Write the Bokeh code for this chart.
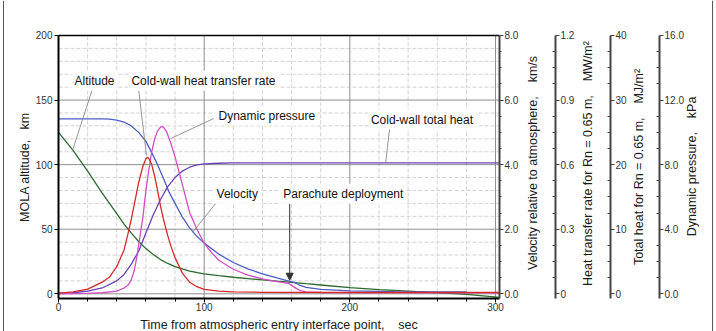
import math
from bokeh.plotting import figure
from bokeh.models import (Range1d, LinearAxis, FixedTicker, Label, Arrow, NormalHead,
                          PrintfTickFormatter, Span)
from bokeh.embed import file_html
from bokeh.resources import INLINE

# ---------------- data ----------------
time_alt = [0, 10, 20, 30, 40, 45, 50, 55, 60, 65, 70, 75, 80, 90, 100, 110, 120, 130, 140,
            150, 160, 170, 180, 200, 220, 250, 280, 303]
altitude_km = [125, 111, 95, 78, 62, 54, 47, 40.5, 35, 30.5, 26.5, 23.5, 21, 17.5, 15.5, 14,
               12.8, 11.8, 10.8, 9.8, 8.9, 7.8, 6.8, 4.8, 3.3, 1.5, -0.5, -2.8]

time_vel = [0, 20, 30, 35, 40, 45, 50, 55, 60, 65, 68, 72, 76, 80, 85, 90, 95, 100, 110, 120,
            130, 140, 150, 158, 162, 166, 170, 180, 200, 230, 260, 280]
velocity_kms = [5.42, 5.42, 5.42, 5.41, 5.38, 5.32, 5.20, 5.00, 4.72, 4.28, 4.00, 3.58, 3.14,
                2.80, 2.38, 2.04, 1.78, 1.57, 1.23, 0.97, 0.77, 0.62, 0.49, 0.39, 0.35, 0.26,
                0.20, 0.14, 0.09, 0.07, 0.06, 0.06]

time_q = [0, 10, 20, 30, 35, 40, 45, 48, 50, 52, 55, 58, 60, 61, 62, 64, 66, 68, 70, 72, 75,
          78, 80, 85, 90, 95, 100, 110, 120, 140, 200, 303]
heat_rate_mw = [0.003, 0.009, 0.022, 0.054, 0.078, 0.126, 0.204, 0.288, 0.348, 0.414, 0.516,
                0.594, 0.627, 0.633, 0.630, 0.600, 0.546, 0.480, 0.408, 0.348, 0.270, 0.204,
                0.168, 0.096, 0.054, 0.033, 0.021, 0.012, 0.009, 0.007, 0.006, 0.006]

time_p = [0, 20, 30, 40, 45, 48, 50, 52, 54, 56, 58, 60, 62, 64, 66, 68, 70, 71, 72, 74, 77,
          80, 84, 87, 90, 95, 100, 105, 110, 120, 130, 140, 150, 158, 162, 166, 170, 180, 303]
dyn_pressure_kpa = [0, 0.024, 0.064, 0.16, 0.36, 0.56, 0.88, 1.44, 2.40, 3.60, 4.80, 6.40,
                    7.68, 8.80, 9.60, 10.08, 10.32, 10.36, 10.32, 10.08, 9.36, 8.48, 7.12,
                    6.08, 5.04, 4.00, 3.12, 2.56, 2.08, 1.52, 1.16, 0.92, 0.76, 0.64, 0.40,
                    0.20, 0.12, 0.08, 0.064]

time_h = [0, 10, 20, 30, 40, 45, 50, 55, 60, 65, 70, 75, 80, 85, 90, 95, 100, 110, 120, 150, 303]
total_heat_mj = [0.06, 0.16, 0.4, 0.9, 2.0, 3.0, 4.6, 6.6, 9.4, 12.2, 14.6, 16.6, 18.0, 19.0,
                 19.6, 19.96, 20.12, 20.22, 20.26, 20.28, 20.28]

# ticks / grid
x_ticks = [0, 100, 200, 300]
x_minor = [20, 40, 60, 80, 120, 140, 160, 180, 220, 240, 260, 280]
alt_ticks = [0, 50, 100, 150, 200]
alt_minor = [10, 20, 30, 40, 60, 70, 80, 90, 110, 120, 130, 140, 160, 170, 180, 190]
vel_ticks = [0, 2, 4, 6, 8]
heat_ticks = [0, 0.3, 0.6, 0.9, 1.2]
tot_ticks = [0, 10, 20, 30, 40]
dyn_ticks = [0, 4, 8, 12, 16]

x_title = "Time from atmospheric entry interface point,\u00a0\u00a0\u00a0\u00a0sec"
y_title = "MOLA altitude,\u00a0\u00a0\u00a0km"
right_titles = ["Velocity relative to atmosphere,\u00a0\u00a0\u00a0\u00a0km/s",
                "Heat transfer rate for Rn = 0.65 m,\u00a0\u00a0\u00a0\u00a0MW/m\u00b2",
                "Total heat for Rn = 0.65 m,\u00a0\u00a0\u00a0\u00a0MJ/m\u00b2",
                "Dynamic pressure,\u00a0\u00a0\u00a0\u00a0kPa"]

# annotation texts and anchor points (time / altitude coordinates)
label_texts = ["Altitude", "Cold-wall heat transfer rate", "Dynamic pressure", "Velocity",
               "Parachute deployment", "Cold-wall total heat"]
label_x = [24.7, 99.5, 143, 122.7, 195.5, 249.5]
label_y = [165, 165, 138, 77.5, 77.5, 134.9]
leader_x0 = [23.4, 54.9, 106.5, 109.7, 227.3]
leader_y0 = [158.9, 158.9, 135.7, 72.5, 127.9]
leader_x1 = [9.6, 60.4, 76.9, 92.0, 224.6]
leader_y1 = [110.9, 107.0, 120.2, 47.5, 101.6]
arrow_x = 158.7
arrow_y = [69.8, 10.5]

# ---------------- layout (the frame fills the whole canvas) ----------------
T_MIN, T_MAX = 0, 302.7          # plotted time span
ALT_MIN, ALT_MAX = -3.6, 200     # plotted altitude span
view_x = (-39.82, 451.70)        # time units visible across the 716 px canvas
view_y = (-29.19, 227.10)        # altitude units visible across the 331 px canvas
axis_x_pos = [341.2, 378.9, 412.6]          # heat, total heat, dynamic pressure axis lines
right_title_x = [325.4, 363.2, 398.2, 435.2]
right_title_y = [101.3, 100.9, 98.2, 98.6]
frame_lines_x = [-37.76, 448.98]
scale = {"vel": 0.04, "heat": 0.006, "tot": 0.2, "dyn": 0.08}   # unit per km of left axis

FONT = "Liberation Sans"
GREEN = "#2b6b2e"
BLUE = "#4d5ec6"
RED = "#d42a2c"
MAGENTA = "#d24fc2"
PURPLE = "#6b42b6"

p = figure(width=716, height=331, x_range=Range1d(*view_x), y_range=Range1d(*view_y),
           output_backend="svg", toolbar_location=None,
           x_axis_location=None, y_axis_location=None,
           min_border_left=0, min_border_right=0, min_border_top=0, min_border_bottom=0)
p.extra_y_ranges = {k: Range1d(view_y[0] * s, view_y[1] * s) for k, s in scale.items()}
p.background_fill_color = "white"
p.border_fill_color = "white"
p.outline_line_color = None
p.grid.visible = False

# grid lines
p.segment(x0=x_minor, y0=[ALT_MIN] * len(x_minor), x1=x_minor, y1=[ALT_MAX] * len(x_minor),
          line_color="#d2d2d2", line_width=1, line_dash="4 2")
p.segment(x0=[T_MIN] * len(alt_minor), y0=alt_minor, x1=[T_MAX] * len(alt_minor), y1=alt_minor,
          line_color="#d2d2d2", line_width=1, line_dash="4 2")
p.segment(x0=x_ticks[1:], y0=[ALT_MIN] * 3, x1=x_ticks[1:], y1=[ALT_MAX] * 3,
          line_color="#8f8f8f", line_width=1)
p.segment(x0=[T_MIN] * 4, y0=alt_ticks[:-1], x1=[T_MAX] * 4, y1=alt_ticks[:-1],
          line_color="#8f8f8f", line_width=1)
# top edge of the plotting box
p.segment(x0=[T_MIN], y0=[ALT_MAX], x1=[T_MAX], y1=[ALT_MAX], line_color="black", line_width=1.5)


def style(ax, color="black", width=2):
    ax.axis_line_color = color
    ax.axis_line_width = width
    ax.major_tick_line_color = color
    ax.minor_tick_line_color = color
    ax.major_tick_line_width = 1
    ax.minor_tick_line_width = 1
    ax.major_label_text_font = FONT
    ax.major_label_text_font_size = "10px"
    ax.major_label_text_color = "#333333"
    ax.axis_label_text_font = FONT
    ax.axis_label_text_font_size = "12.5px"
    ax.axis_label_text_font_style = "normal"
    ax.axis_label_text_color = "#1a1a1a"


xa = LinearAxis(fixed_location=ALT_MIN, bounds=(T_MIN, T_MAX),
                ticker=FixedTicker(ticks=x_ticks, minor_ticks=x_minor))
style(xa)
xa.axis_label = x_title
xa.major_tick_out = 4
xa.major_tick_in = 0
xa.minor_tick_out = 3
xa.minor_tick_in = 0
xa.major_label_standoff = 1
xa.axis_label_standoff = 3
p.add_layout(xa, "below")

ya = LinearAxis(fixed_location=T_MIN, bounds=(ALT_MIN, ALT_MAX),
                ticker=FixedTicker(ticks=alt_ticks, minor_ticks=alt_minor))
style(ya)
ya.axis_label = y_title
ya.major_tick_out = 4
ya.major_tick_in = 0
ya.minor_tick_out = 0
ya.minor_tick_in = 0
ya.major_label_standoff = 2
ya.axis_label_standoff = 1
p.add_layout(ya, "left")


def right_axis(rng, ticks, fmt, loc, minor_out):
    minor = []
    for a, b in zip(ticks[:-1], ticks[1:]):
        step = (b - a) / 4
        minor += [a + step, a + 2 * step, a + 3 * step]
    s = scale[rng]
    ax = LinearAxis(y_range_name=rng, fixed_location=loc,
                    bounds=(ALT_MIN * s, ALT_MAX * s),
                    ticker=FixedTicker(ticks=ticks, minor_ticks=minor),
                    formatter=PrintfTickFormatter(format=fmt))
    style(ax, "#444444", 2)
    ax.major_tick_out = 4
    ax.major_tick_in = 0
    ax.minor_tick_out = minor_out
    ax.minor_tick_in = 0 if minor_out else 3
    ax.major_label_standoff = 1
    return ax


vel_ax = right_axis("vel", vel_ticks, "%.1f", T_MAX, 2)
heat_ax = right_axis("heat", heat_ticks, "%.1f", axis_x_pos[0], 0)
heat_ax.major_label_overrides = {0: "0"}
tot_ax = right_axis("tot", tot_ticks, "%d", axis_x_pos[1], 0)
dyn_ax = right_axis("dyn", dyn_ticks, "%.1f", axis_x_pos[2], 0)
for ax in (vel_ax, heat_ax, tot_ax, dyn_ax):
    p.add_layout(ax, "right")

# curves
lw = 1.3
p.line(time_alt, altitude_km, line_color=GREEN, line_width=lw)
p.line(time_vel, velocity_kms, y_range_name="vel", line_color=BLUE, line_width=lw)
p.line(time_h, total_heat_mj, y_range_name="tot", line_color=PURPLE, line_width=lw)
p.line(time_p, dyn_pressure_kpa, y_range_name="dyn", line_color=MAGENTA, line_width=lw)
p.line(time_q, heat_rate_mw, y_range_name="heat", line_color=RED, line_width=lw)

# leaders, arrow, labels
p.segment(x0=leader_x0, y0=leader_y0, x1=leader_x1, y1=leader_y1,
          line_color="#8a8a8a", line_width=0.9)
p.add_layout(Arrow(end=NormalHead(size=7, fill_color="#333333", line_color="#333333"),
                   x_start=arrow_x, y_start=arrow_y[0], x_end=arrow_x, y_end=arrow_y[1],
                   line_color="#333333", line_width=1))
for t, x, y in zip(label_texts, label_x, label_y):
    p.add_layout(Label(x=x, y=y, text=t, text_align="center", text_baseline="middle",
                       text_font=FONT, text_font_size="12px", text_color="#111111",
                       background_fill_color="white", padding=3))

# right-hand axis titles (reading bottom to top)
for t, x, y in zip(right_titles, right_title_x, right_title_y):
    p.add_layout(Label(x=x, y=y, text=t, angle=math.pi / 2,
                       text_align="center", text_baseline="middle",
                       text_font=FONT, text_font_size="12.5px", text_color="#1a1a1a"))

# thin outer frame lines at the left and right of the picture
for fx in frame_lines_x:
    p.add_layout(Span(location=fx, dimension="height", line_color="#555555", line_width=1))

open("out.html", "w").write(file_html(p, INLINE))
